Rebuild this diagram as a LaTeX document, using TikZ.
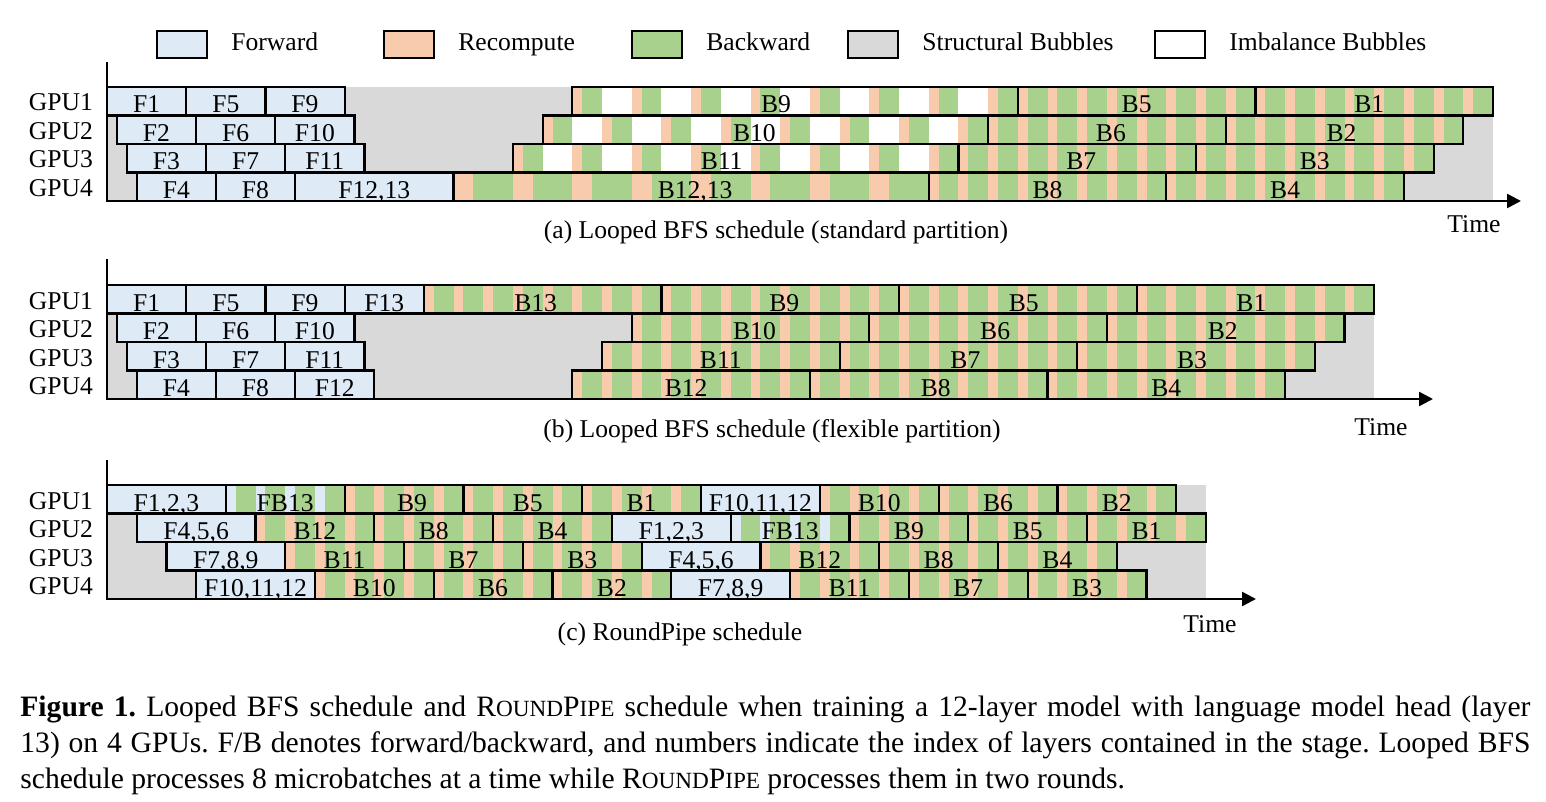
\documentclass[tikz,border=0pt]{standalone}
\usepackage{fontspec}
\setmainfont{Liberation Serif}
\usetikzlibrary{arrows.meta}
\definecolor{fwd}{HTML}{DEEBF7}
\definecolor{rec}{HTML}{F8CBAD}
\definecolor{bwd}{HTML}{A9D18E}
\definecolor{sbub}{HTML}{D9D9D9}
\pgfdeclarelayer{fg}
\pgfsetlayers{main,fg}
\frenchspacing
\newcommand{\uu}{9.9}
\newcommand{\RH}{28.5}
\newcommand{\fsc}[1]{{\fontsize{11.6pt}{12pt}\selectfont #1}}
\newcommand{\typeN}{\def\sbA{1}\def\sbB{2}\def\sbW{0}\def\sbC{rec}}
\newcommand{\typeI}{\def\sbA{1}\def\sbB{2}\def\sbW{3}\def\sbC{rec}}
\newcommand{\typeD}{\def\sbA{2}\def\sbB{4}\def\sbW{0}\def\sbC{rec}}
\newcommand{\typeF}{\def\sbA{1}\def\sbB{2}\def\sbW{0}\def\sbC{fwd}}
% forward block: start unit, width units, ytop, name, label
\newcommand{\fblk}[5]{%
  \pgfmathsetmacro{\bxa}{107+(#1)*\uu}%
  \pgfmathsetmacro{\bxb}{107+(#1+#2)*\uu}%
  \pgfmathsetmacro{\bxm}{(\bxa+\bxb)/2}%
  \filldraw[blk,fill=fwd] (\bxa,#3) rectangle (\bxb,#3+\RH);%
  \begin{pgfonlayer}{fg}\node[lbl] (#4) at (\bxm,#3+26) {#5};\end{pgfonlayer}%
}
% striped block: [label shift], start unit, ytop, periods, type, name, label
\newcommand{\sblk}[7][0]{%
  \csname type#5\endcsname
  \pgfmathsetmacro{\bxs}{107+(#2)*\uu}%
  \pgfmathsetmacro{\bper}{(\sbA+\sbB+\sbW)*\uu}%
  \pgfmathsetmacro{\bxe}{\bxs+(#4)*\bper-\sbW*\uu}%
  \fill[white] (\bxs,#3) rectangle (\bxe,#3+\RH);%
  \foreach \k in {1,...,#4}{%
    \pgfmathsetmacro{\bpa}{\bxs+(\k-1)*\bper}%
    \pgfmathsetmacro{\bpb}{\bpa+\sbA*\uu}%
    \pgfmathsetmacro{\bpc}{\bpb+\sbB*\uu}%
    \fill[\sbC] (\bpa,#3) rectangle (\bpb,#3+\RH);%
    \fill[bwd] (\bpb,#3) rectangle (\bpc,#3+\RH);%
  }%
  \draw[blk] (\bxs,#3) rectangle (\bxe,#3+\RH);%
  \pgfmathsetmacro{\bxm}{(\bxs+\bxe)/2+(#1)}%
  \begin{pgfonlayer}{fg}\node[lbl] (#6) at (\bxm,#3+26) {#7};\end{pgfonlayer}%
}
\begin{document}
\begin{tikzpicture}[x=0.5pt,y=-0.5pt,
  blk/.style={draw=black,line width=1.1pt},
  lbl/.style={anchor=base,inner sep=0pt,font=\fontsize{12.8pt}{15pt}\selectfont},
  legtxt/.style={anchor=base west,inner sep=0pt,font=\fontsize{12.8pt}{15pt}\selectfont},
  legbox/.style={draw=black,line width=1.1pt},
  capt/.style={anchor=base west,inner sep=0pt,font=\fontsize{14.8pt}{18pt}\selectfont},
  axisline/.style={line width=1.2pt,-{Triangle[length=7pt,width=7pt]}}]
\useasboundingbox (0,0) rectangle (1546,802);

% ---------------- legend ----------------
\draw[legbox,fill=fwd] (157,31) rectangle (207,58);
\node[legtxt] (lgF) at (231,51) {Forward};
\draw[legbox,fill=rec] (384,31) rectangle (434,58);
\node[legtxt] (lgR) at (458,51) {Recompute};
\draw[legbox,fill=bwd] (632,31) rectangle (682,58);
\node[legtxt] (lgB) at (706,51) {Backward};
\draw[legbox,fill=sbub] (848,31) rectangle (898,58);
\node[legtxt] (lgS) at (922,51) {Structural Bubbles};
\draw[legbox,fill=white] (1155,31) rectangle (1205,58);
\node[legtxt] (lgI) at (1229,51) {Imbalance Bubbles};

% ---------------- (a) ----------------
\fill[sbub] (107,87) rectangle (1493,201);
\node[lbl] (aG1) at (61,111) {GPU1};
\node[lbl] (aG2) at (61,139.5) {GPU2};
\node[lbl] (aG3) at (61,168) {GPU3};
\node[lbl] (aG4) at (61,196.5) {GPU4};
\fblk{0}{8}{87}{a1f1}{F1}
\fblk{8}{8}{87}{a1f5}{F5}
\fblk{16}{8}{87}{a1f9}{F9}
\sblk[-19]{47}{87}{8}{I}{a1b9}{B9}
\sblk{92}{87}{8}{N}{a1b5}{B5}
\sblk[-5]{116}{87}{8}{N}{a1b1}{B1}
\fblk{1}{8}{115.5}{a2f2}{F2}
\fblk{9}{8}{115.5}{a2f6}{F6}
\fblk{17}{8}{115.5}{a2f10}{F10}
\sblk[-11]{44}{115.5}{8}{I}{a2b10}{B10}
\sblk[4]{89}{115.5}{8}{N}{a2b6}{B6}
\sblk[-3]{113}{115.5}{8}{N}{a2b2}{B2}
\fblk{2}{8}{144}{a3f3}{F3}
\fblk{10}{8}{144}{a3f7}{F7}
\fblk{18}{8}{144}{a3f11}{F11}
\sblk[-14]{41}{144}{8}{I}{a3b11}{B11}
\sblk[4]{86}{144}{8}{N}{a3b7}{B7}
\sblk{110}{144}{8}{N}{a3b3}{B3}
\fblk{3}{8}{172.5}{a4f4}{F4}
\fblk{11}{8}{172.5}{a4f8}{F8}
\fblk{19}{16}{172.5}{a4f12}{F12,13}
\sblk[4]{35}{172.5}{8}{D}{a4b12}{B12,13}
\sblk{83}{172.5}{8}{N}{a4b8}{B8}
\sblk{107}{172.5}{8}{N}{a4b4}{B4}
\coordinate (aTop) at (107,62);
\coordinate (aOrg) at (107,201);
\coordinate (aEnd) at (1521,201);
\draw[axisline] (aTop) -- (aOrg) -- (aEnd);
\node[lbl] (aTime) at (1474,233) {Time};
\node[lbl] (aCap) at (776,239) {(a) Looped BFS schedule (standard partition)};

% ---------------- (b) ----------------
\fill[sbub] (107,285) rectangle (1374,399);
\node[lbl] (bG1) at (61,309) {GPU1};
\node[lbl] (bG2) at (61,337.5) {GPU2};
\node[lbl] (bG3) at (61,366) {GPU3};
\node[lbl] (bG4) at (61,394.5) {GPU4};
\fblk{0}{8}{285}{b1f1}{F1}
\fblk{8}{8}{285}{b1f5}{F5}
\fblk{16}{8}{285}{b1f9}{F9}
\fblk{24}{8}{285}{b1f13}{F13}
\sblk[-7]{32}{285}{8}{N}{b1b13}{B13}
\sblk[4]{56}{285}{8}{N}{b1b9}{B9}
\sblk[6]{80}{285}{8}{N}{b1b5}{B5}
\sblk[-4]{104}{285}{8}{N}{b1b1}{B1}
\fblk{1}{8}{313.5}{b2f2}{F2}
\fblk{9}{8}{313.5}{b2f6}{F6}
\fblk{17}{8}{313.5}{b2f10}{F10}
\sblk[4]{53}{313.5}{8}{N}{b2b10}{B10}
\sblk[7]{77}{313.5}{8}{N}{b2b6}{B6}
\sblk[-3]{101}{313.5}{8}{N}{b2b2}{B2}
\fblk{2}{8}{342}{b3f3}{F3}
\fblk{10}{8}{342}{b3f7}{F7}
\fblk{18}{8}{342}{b3f11}{F11}
\sblk{50}{342}{8}{N}{b3b11}{B11}
\sblk[7]{74}{342}{8}{N}{b3b7}{B7}
\sblk[-4]{98}{342}{8}{N}{b3b3}{B3}
\fblk{3}{8}{370.5}{b4f4}{F4}
\fblk{11}{8}{370.5}{b4f8}{F8}
\fblk{19}{8}{370.5}{b4f12}{F12}
\sblk[-5]{47}{370.5}{8}{N}{b4b12}{B12}
\sblk[7]{71}{370.5}{8}{N}{b4b8}{B8}
\sblk{95}{370.5}{8}{N}{b4b4}{B4}
\coordinate (bTop) at (107,259);
\coordinate (bOrg) at (107,399);
\coordinate (bEnd) at (1433,399);
\draw[axisline] (bTop) -- (bOrg) -- (bEnd);
\node[lbl] (bTime) at (1381,435) {Time};
\node[lbl] (bCap) at (772,437) {(b) Looped BFS schedule (flexible partition)};

% ---------------- (c) ----------------
\fill[sbub] (107,485) rectangle (1206,599);
\node[lbl] (cG1) at (61,509) {GPU1};
\node[lbl] (cG2) at (61,537.5) {GPU2};
\node[lbl] (cG3) at (61,566) {GPU3};
\node[lbl] (cG4) at (61,594.5) {GPU4};
\fblk{0}{12}{485}{c1f1}{F1,2,3}
\sblk{12}{485}{4}{F}{c1fb}{FB13}
\sblk[8]{24}{485}{4}{N}{c1b9}{B9}
\sblk[5]{36}{485}{4}{N}{c1b5}{B5}
\sblk{48}{485}{4}{N}{c1b1}{B1}
\fblk{60}{12}{485}{c1f10}{F10,11,12}
\sblk{72}{485}{4}{N}{c1b10}{B10}
\sblk{84}{485}{4}{N}{c1b6}{B6}
\sblk{96}{485}{4}{N}{c1b2}{B2}
\fblk{3}{12}{513.5}{c2f4}{F4,5,6}
\sblk{15}{513.5}{4}{N}{c2b12}{B12}
\sblk{27}{513.5}{4}{N}{c2b8}{B8}
\sblk{39}{513.5}{4}{N}{c2b4}{B4}
\fblk{51}{12}{513.5}{c2f1}{F1,2,3}
\sblk{63}{513.5}{4}{F}{c2fb}{FB13}
\sblk{75}{513.5}{4}{N}{c2b9}{B9}
\sblk{87}{513.5}{4}{N}{c2b5}{B5}
\sblk{99}{513.5}{4}{N}{c2b1}{B1}
\fblk{6}{12}{542}{c3f7}{F7,8,9}
\sblk{18}{542}{4}{N}{c3b11}{B11}
\sblk{30}{542}{4}{N}{c3b7}{B7}
\sblk{42}{542}{4}{N}{c3b3}{B3}
\fblk{54}{12}{542}{c3f4}{F4,5,6}
\sblk{66}{542}{4}{N}{c3b12}{B12}
\sblk{78}{542}{4}{N}{c3b8}{B8}
\sblk{90}{542}{4}{N}{c3b4}{B4}
\fblk{9}{12}{570.5}{c4f10}{F10,11,12}
\sblk{21}{570.5}{4}{N}{c4b10}{B10}
\sblk{33}{570.5}{4}{N}{c4b6}{B6}
\sblk{45}{570.5}{4}{N}{c4b2}{B2}
\fblk{57}{12}{570.5}{c4f7}{F7,8,9}
\sblk{69}{570.5}{4}{N}{c4b11}{B11}
\sblk{81}{570.5}{4}{N}{c4b7}{B7}
\sblk{93}{570.5}{4}{N}{c4b3}{B3}
\coordinate (cTop) at (107,460);
\coordinate (cOrg) at (107,599);
\coordinate (cEnd) at (1256,599);
\draw[axisline] (cTop) -- (cOrg) -- (cEnd);
\node[lbl] (cTime) at (1210,632) {Time};
\node[lbl] (cCap) at (680,640) {(c) RoundPipe schedule};

% ---------------- figure caption ----------------
\node[capt] (cap1) at (20,716) {\makebox[755pt][s]{\textbf{Figure 1.} Looped BFS schedule and R\fsc{OUND}P\fsc{IPE} schedule when training a 12-layer model with language model head (layer}};
\node[capt] (cap2) at (20,752) {\makebox[755pt][s]{13) on 4 GPUs. F/B denotes forward/backward, and numbers indicate the index of layers contained in the stage. Looped BFS}};
\node[capt] (cap3) at (20,788) {schedule processes 8 microbatches at a time while R\fsc{OUND}P\fsc{IPE} processes them in two rounds.};
\end{tikzpicture}
\end{document}
